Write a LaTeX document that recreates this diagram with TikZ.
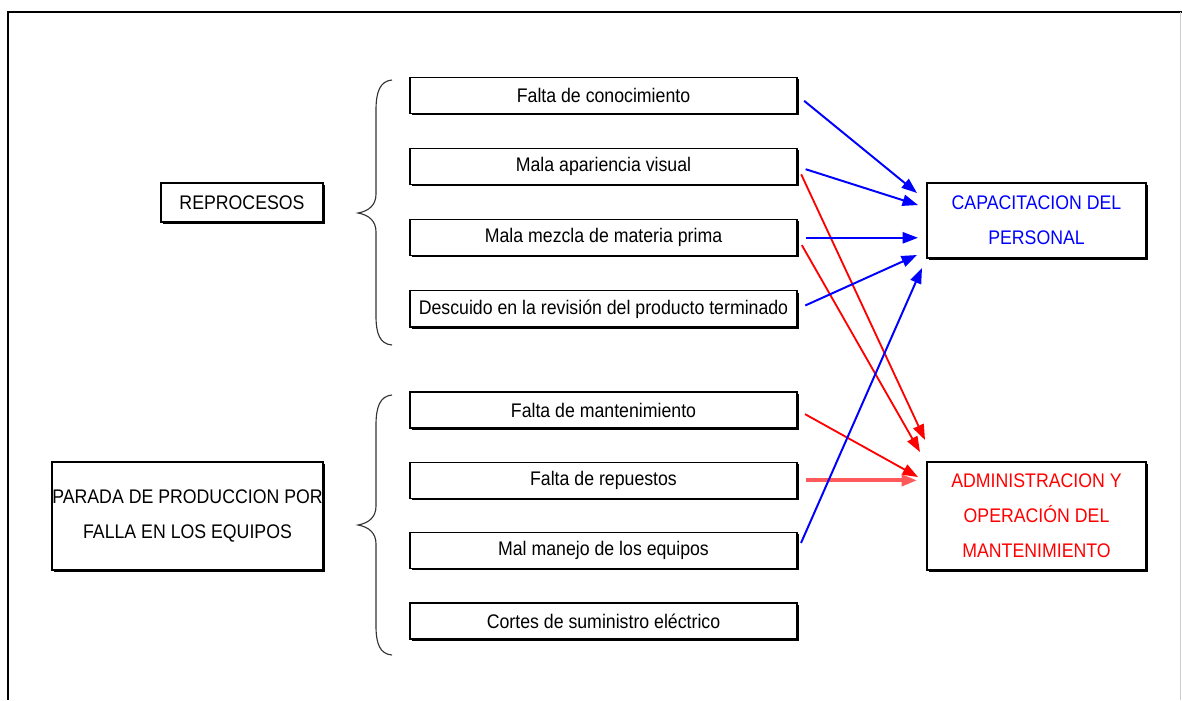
\documentclass[tikz,border=0pt]{standalone}
\usepackage{fontspec}
\setmainfont{Liberation Sans}[FakeStretch=0.9]
\usetikzlibrary{positioning,arrows.meta,shadows}

\tikzset{
  causa/.style={draw, line width=0.8pt, fill=white, inner sep=0pt,
    minimum width=9.675cm, minimum height=0.9cm,
    font=\fontsize{14}{25}\selectfont,
    drop shadow={shadow xshift=1.2pt, shadow yshift=-1.2pt, fill=black, opacity=1}},
  grupo/.style={draw, line width=1.4pt, fill=white, inner sep=0pt, align=center,
    font=\fontsize{14}{25}\selectfont,
    drop shadow={shadow xshift=1.5pt, shadow yshift=-1.5pt, fill=black, opacity=1}},
  llave/.style={black!80, line width=0.8pt},
  azul/.style={blue, line width=1.4pt, -{Triangle[length=11pt,width=8pt]}, shorten <=6pt},
  rojo/.style={red, line width=1.3pt, -{Triangle[length=11pt,width=8pt]}, shorten <=6pt}
}

\begin{document}
\begin{tikzpicture}[x=0.025cm, y=-0.025cm]
  \useasboundingbox (0,0) rectangle (1182,700);
  % marco
  \draw[line width=1pt] (1182,12) -- (8,12) -- (8,700);
  \draw[black!20, line width=0.6pt] (1180,12) -- (1180,700);

  % grupos
  \node[grupo, minimum width=4.05cm, minimum height=0.975cm] (reproc) at (242,202.5) {REPROCESOS};
  \node[grupo, minimum width=6.775cm, minimum height=2.7cm] (parada) at (187.5,516)
    {PARADA DE PRODUCCION POR\\FALLA EN LOS EQUIPOS};

  % causas
  \node[causa] (conoc) at (603.5,95.5) {Falta de conocimiento};
  \node[causa, below=0.85cm of conoc] (apariencia) {Mala apariencia visual};
  \node[causa, below=0.85cm of apariencia] (mezcla) {Mala mezcla de materia prima};
  \node[causa, below=0.85cm of mezcla] (descuido) {Descuido en la revisión del producto terminado};

  \node[causa] (mant) at (603.5,410) {Falta de mantenimiento};
  \node[causa, below=0.83cm of mant] (repuestos) {Falta de repuestos};
  \node[causa, below=0.83cm of repuestos] (manejo) {Mal manejo de los equipos};
  \node[causa, below=0.83cm of manejo] (cortes) {Cortes de suministro eléctrico};

  % soluciones
  \node[grupo, text=blue, minimum width=5.475cm, minimum height=1.875cm] (capac) at (1036.5,220.5)
    {CAPACITACION DEL\\PERSONAL};
  \node[grupo, text=red, minimum width=5.475cm, minimum height=2.7cm] (admin) at (1036.5,516)
    {ADMINISTRACION Y\\OPERACIÓN DEL\\MANTENIMIENTO};

  % llaves
  \draw[llave] (392,80) .. controls (380,81) and (376,92) .. (376,110) -- (376,194)
    .. controls (376,205) and (369,211) .. (358,213)
    .. controls (369,215) and (376,221) .. (376,232) -- (376,316)
    .. controls (376,334) and (380,344) .. (392,345);
  \draw[llave] (392,395) .. controls (380,396) and (376,407) .. (376,425) -- (376,506)
    .. controls (376,517) and (369,523) .. (358,525)
    .. controls (369,527) and (376,533) .. (376,544) -- (376,626)
    .. controls (376,644) and (380,654) .. (392,655);

  % puntas
  \coordinate (capA) at (917,193);
  \coordinate (capB) at (918,205);
  \coordinate (capC) at (918,0 |- mezcla.east);
  \coordinate (capD) at (917,255);
  \coordinate (capE) at (922,268);
  \coordinate (admA) at (925,440);
  \coordinate (admB) at (920,452);
  \coordinate (admC) at (918,477);
  \coordinate (admD) at (917,0 |- repuestos.east);

  \draw[rojo] (apariencia.east) -- (admA);
  \draw[rojo] (mezcla.east) -- (admB);
  \draw[rojo] (mant.east) -- (admC);
  \draw[rojo, red!65, line width=3pt, shorten <=6pt] (repuestos.east) -- (admD);

  \draw[azul] (conoc.east) -- (capA);
  \draw[azul] (apariencia.east) -- (capB);
  \draw[azul] (mezcla.east) -- (capC);
  \draw[azul] (descuido.east) -- (capD);
  \draw[azul] (manejo.east) -- (capE);
\end{tikzpicture}
\end{document}
